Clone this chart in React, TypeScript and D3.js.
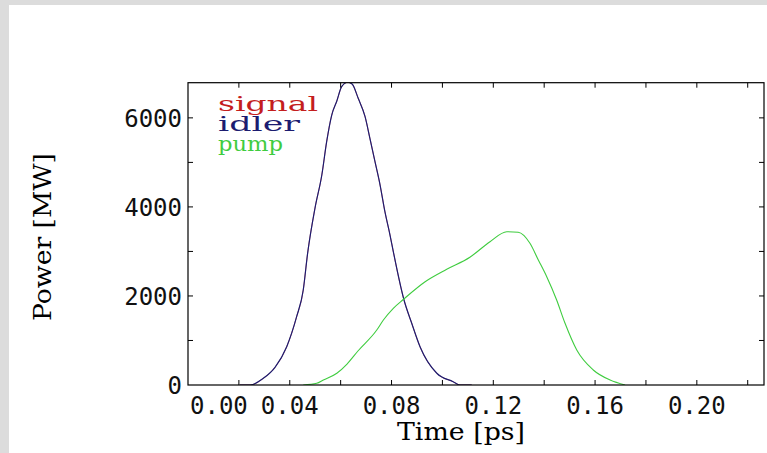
import React from "react";
import * as d3 from "d3";

const idlerX = [0.0204, 0.0244, 0.0296, 0.0342, 0.0388, 0.0427, 0.0453, 0.0470, 0.0499, 0.0526, 0.0545, 0.0565, 0.0585, 0.0604, 0.0628, 0.0645, 0.0669, 0.0696, 0.0715, 0.0735, 0.0755, 0.0774, 0.0794, 0.0807, 0.0849, 0.0879, 0.0912, 0.0978, 0.1042, 0.1069, 0.1115];
const idlerY = [0, 0, 150, 398, 860, 1534, 2134, 2950, 3969, 4717, 5465, 6064, 6380, 6700, 6800, 6760, 6439, 6026, 5541, 5015, 4492, 3892, 3369, 2994, 1909, 1393, 860, 263, 74, 0, 0];
const signalX = idlerX;
const signalY = idlerY;
const pumpX = [0.0453, 0.0506, 0.0532, 0.0585, 0.0625, 0.0668, 0.0742, 0.0768, 0.0807, 0.0846, 0.0932, 0.1017, 0.1108, 0.1187, 0.1253, 0.1298, 0.1344, 0.1377, 0.1410, 0.1449, 0.1482, 0.1528, 0.1593, 0.1659, 0.1718];
const pumpY = [0, 38, 112, 263, 470, 764, 1235, 1460, 1723, 1920, 2320, 2600, 2870, 3219, 3443, 3430, 3183, 2808, 2432, 1909, 1386, 786, 337, 112, 0];

const xTicks = [0.02, 0.04, 0.06, 0.08, 0.10, 0.12, 0.14, 0.16, 0.18, 0.20, 0.22];
const xLabels = [0.0, 0.04, 0.08, 0.12, 0.16, 0.2];
const yTicks = [1000, 2000, 3000, 4000, 5000, 6000];
const yLabels = [0, 2000, 4000, 6000];
const legendNames = ["signal", "idler", "pump"];
const legendWidths = [100, 82, 65];
const colors = ["#c41e1e", "#1c1c70", "#3fcc3f"];

const L = 188, R = 764, T = 82.7, B = 385;

export default function App() {
  const x = d3.scaleLinear().domain([0, 0.2264]).range([L, R]);
  const y = d3.scaleLinear().domain([0, 6790]).range([B, T]);
  const line = (xs: number[], ys: number[]) =>
    d3.line<number>().x((_, i) => x(xs[i])).y((_, i) => y(ys[i])).curve(d3.curveMonotoneX)(xs) || "";
  const tickFont = "DejaVu Sans Mono";
  const serif = "DejaVu Serif";
  return (
    <>
      <style>{`body{margin:0;background:#dcdcdc}`}</style>
      <svg width={767} height={453} style={{ display: "block" }}>
        <rect x={9} y={5} width={758} height={448} fill="#ffffff" />
        <defs>
          <clipPath id="plot">
            <rect x={L} y={T} width={R - L} height={B - T} />
          </clipPath>
        </defs>
        <g clipPath="url(#plot)" fill="none">
          <path d={line(signalX, signalY)} stroke={colors[0]} strokeWidth={0.6} />
          <path d={line(idlerX, idlerY)} stroke={colors[1]} strokeWidth={1.2} />
          <path d={line(pumpX, pumpY)} stroke={colors[2]} strokeWidth={1.1} />
        </g>
        <rect x={L} y={T} width={R - L} height={B - T} fill="none" stroke="#000" strokeWidth={1.2} />
        {xTicks.map((t) => (
          <g key={"xt" + t} stroke="#000" strokeWidth={1}>
            <line x1={x(t)} x2={x(t)} y1={B} y2={B - 5} />
            <line x1={x(t)} x2={x(t)} y1={T} y2={T + 5} />
          </g>
        ))}
        {yTicks.map((t) => (
          <g key={"yt" + t} stroke="#000" strokeWidth={1}>
            <line x1={L} x2={L + 5} y1={y(t)} y2={y(t)} />
            <line x1={R} x2={R - 5} y1={y(t)} y2={y(t)} />
          </g>
        ))}
        {xLabels.map((t, i) => (
          <text key={"xl" + t} x={i === 0 ? L + 2 : x(t)} y={414} textAnchor={i === 0 ? "start" : "middle"}
            fontFamily={tickFont} fontSize={24} fill="#111">{t.toFixed(2)}</text>
        ))}
        {yLabels.map((t) => (
          <text key={"yl" + t} x={182} y={y(t) + 9} textAnchor="end"
            fontFamily={tickFont} fontSize={24} fill="#111">{t}</text>
        ))}
        <text x={397} y={440} fontFamily={serif} fontSize={25} textLength={128} lengthAdjust="spacingAndGlyphs" fill="#000">Time [ps]</text>
        <text transform={`translate(51,237) rotate(-90)`} textAnchor="middle" fontFamily={serif} fontSize={25}
          textLength={168} lengthAdjust="spacingAndGlyphs" fill="#000">Power [MW]</text>
        {legendNames.map((n, i) => (
          <text key={n} x={218} y={111 + i * 20} fontFamily={serif} fontSize={20}
            textLength={legendWidths[i]} lengthAdjust="spacingAndGlyphs" fill={colors[i]}>{n}</text>
        ))}
      </svg>
    </>
  );
}
